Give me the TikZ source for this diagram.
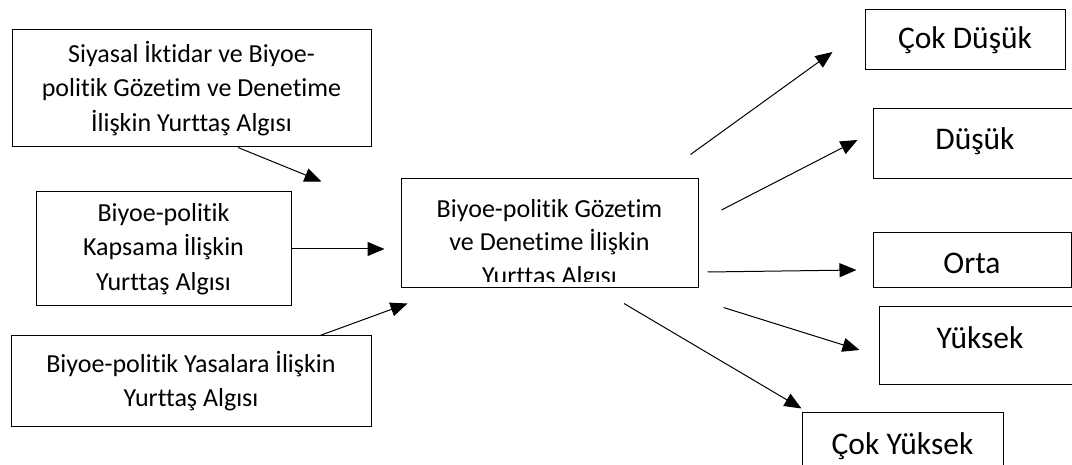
\documentclass[tikz,border=0pt]{standalone}
\usepackage{fontspec}
\setmainfont{Carlito}[Ligatures={NoCommon}]
\usetikzlibrary{arrows.meta,calc}

\begin{document}
\begin{tikzpicture}[x=1pt, y=-1pt,
        kutu/.style={draw, line width=1pt, inner sep=0pt, align=center, font=\fontsize{26}{34.5}\selectfont},
        sonuc/.style={draw, line width=1pt, inner sep=0pt, font=\fontsize{31.5}{34}\selectfont},
        ok/.style={-{Triangle[length=17pt,width=14pt]}, line width=1pt}]
        \useasboundingbox (0,0) rectangle (1072,465);
        % left boxes
        \path (191.5,88.5) node[kutu, minimum width=359pt, minimum height=117pt](iktidar) {Siyasal İktidar ve Biyoe-\\politik Gözetim ve Denetime\\İlişkin Yurttaş Algısı}
            (163.5,249) node[kutu, minimum width=255pt, minimum height=114pt](kapsam) {Biyoe-politik\\Kapsama İlişkin\\Yurttaş Algısı}
            (191,381) node[kutu, minimum width=360pt, minimum height=90pt](yasa) {Biyoe-politik Yasalara İlişkin\\Yurttaş Algısı}
            (549.5,233.5) node[draw, line width=1pt, minimum width=297pt, minimum height=109pt](algi) {};
        \begin{scope}
            \clip ($(algi.south west)+(0,-6.5)$) rectangle (algi.north east);
            \path (549.5,244) node[kutu, draw=none, font=\fontsize{26}{33.5}\selectfont](algimetin) {Biyoe-politik Gözetim\\ve Denetime İlişkin\\Yurttaş Algısı};
        \end{scope}
        % right boxes
        \path (965,40) node[sonuc, minimum width=200pt, minimum height=60pt](cokdusuk) {Çok Düşük}
            (975,144) node[sonuc, minimum width=204pt, minimum height=70pt, text depth=10pt](dusuk) {Düşük}
            (972,260.5) node[sonuc, minimum width=198pt, minimum height=55pt, text height=27pt](orta) {Orta}
            (980,345.5) node[sonuc, minimum width=202pt, minimum height=77pt, text depth=16pt](yuksek) {Yüksek}
            (902.5,446) node[sonuc, minimum width=201pt, minimum height=68pt](cokyuksek) {Çok Yüksek};
        % arrows
        \draw[ok] ($(iktidar.south)+(46.5,0)$) -- ($(algi.north west)+(-79,3)$);
        \draw[ok, shorten >=16pt] (kapsam.east) -- (kapsam.east -| algi.west);
        \draw[ok] ($(yasa.north)+(129,0)$) -- ($(algi.south west)+(7,15)$);
        \draw[ok] ($(algi.north east)+(-8,-24)$) -- ($(cokdusuk.west)+(-32,12)$);
        \draw[ok] ($(algi.east)+(23,-23.5)$) -- ($(dusuk.west)+(-15,-4)$);
        \draw[ok] ($(algi.east)+(9,38.5)$) -- ($(orta.west)+(-16,9.5)$);
        \draw[ok] ($(algi.south east)+(25,19)$) -- ($(yuksek.west)+(-19,4.5)$);
        \draw[ok] ($(algi.south)+(74.5,15)$) -- ($(cokyuksek.north west)+(0,-3)$);
    \end{tikzpicture}
\end{document}
